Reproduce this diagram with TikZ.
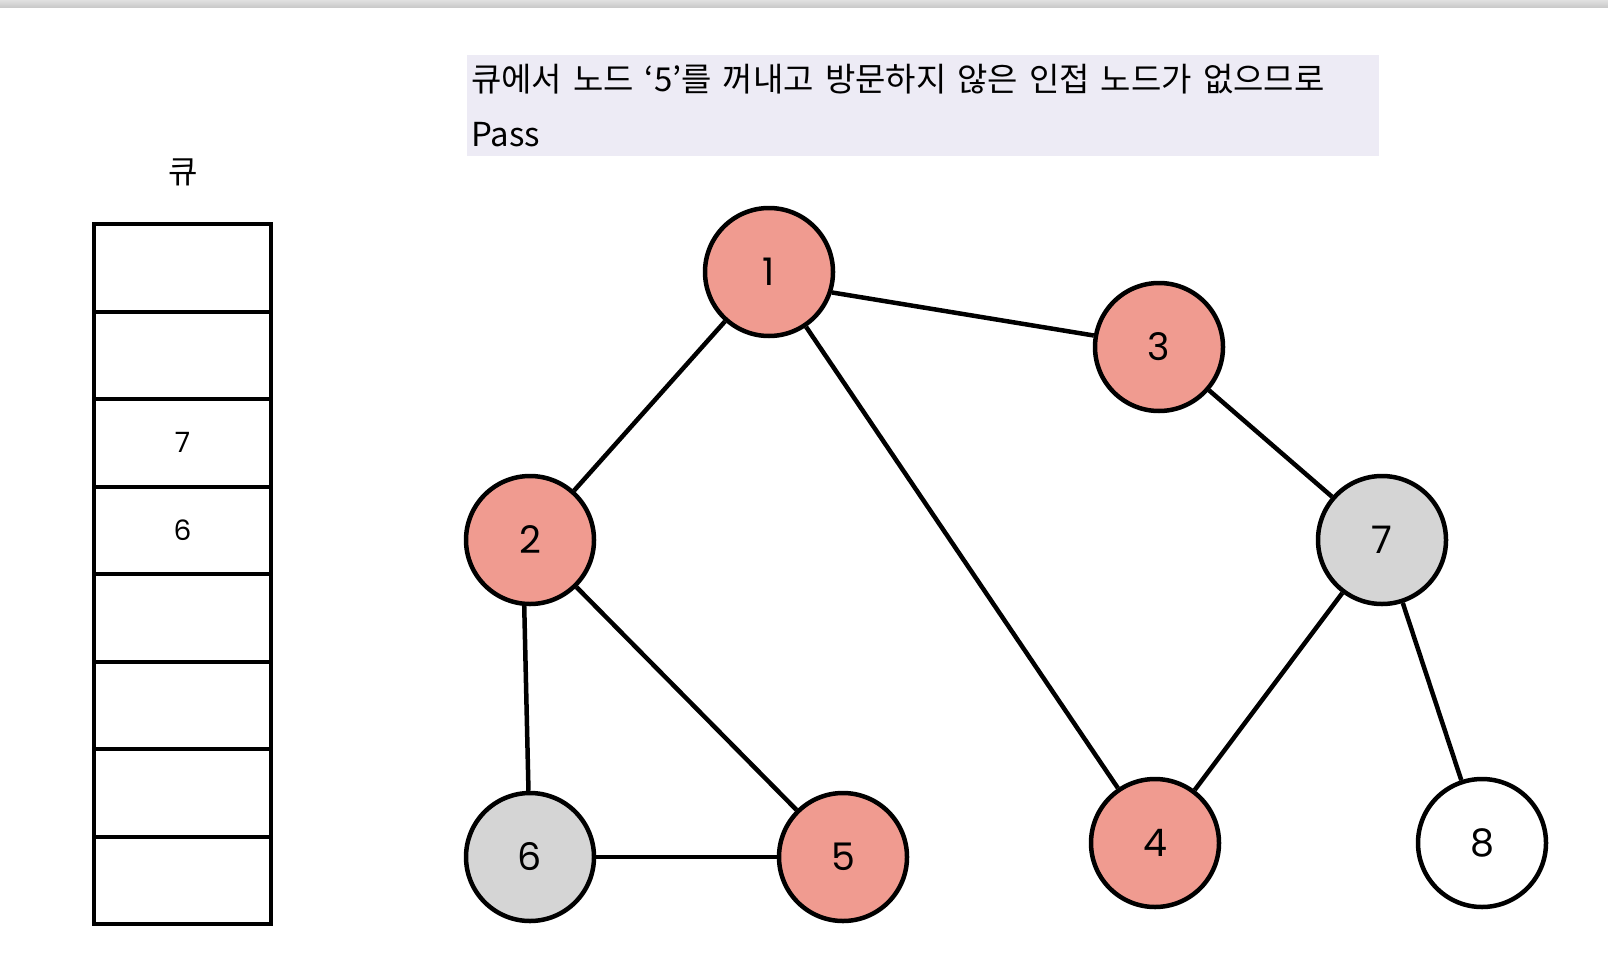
\documentclass[tikz,border=0pt]{standalone}
\usepackage{fontspec}
\setmainfont{Poppins}
\newfontfamily\kr{Noto Sans CJK KR}
\definecolor{visited}{HTML}{F09B90}
\definecolor{queued}{HTML}{D5D5D5}
\definecolor{notebg}{HTML}{EDEBF5}
\begin{document}
\begin{tikzpicture}[x=1pt, y=-1pt, every node/.style={font=\fontsize{38}{42}\selectfont},
  vnode/.style={draw,circle,line width=4.5pt,minimum size=128pt,inner sep=0pt},
  qcell/.style={draw,line width=4pt,minimum width=177pt,minimum height=87.5pt,inner sep=0pt,font=\fontsize{28}{32}\selectfont},
  edge/.style={line width=4.5pt}]
\useasboundingbox (0,0) rectangle (1608,966);
\shade[top color=black!12, bottom color=black!22] (0,0) rectangle (1608,8);
% note box
\node[fill=notebg,anchor=north west,minimum width=912pt,minimum height=101pt,text width=904pt,inner sep=4pt,align=left,
  font=\kr\fontsize{33}{55}\selectfont] (note) at (467,55) {큐에서 노드 ‘5’를 꺼내고 방문하지 않은 인접 노드가 없으므로\\Pass};
% queue
\node[font=\kr\fontsize{32}{36}\selectfont] (qlabel) at (183,172) {큐};
\foreach \i/\t in {1/,2/,3/7,4/6,5/,6/,7/,8/}
  \node[qcell] (q\i) at (182.5,224+87.5*\i-43.75) {\t};
% graph
\node[vnode,fill=visited] (n1) at (769,272) {1};
\node[vnode,fill=visited] (n3) at (1159,347) {3};
\node[vnode,fill=visited] (n2) at (530,540) {2};
\node[vnode,fill=queued] (n7) at (1382,540) {7};
\node[vnode,fill=queued] (n6) at (530,857) {6};
\node[vnode,fill=visited] (n5) at (843,857) {5};
\node[vnode,fill=visited] (n4) at (1155,843) {4};
\node[vnode,fill=white] (n8) at (1482,843) {8};
\draw[edge] (n1.-18) -- (n3.170); \draw[edge] (n1) -- (n2); \draw[edge] (n1) -- (n4);
\draw[edge] (n3) -- (n7); \draw[edge] (n2.-95) -- (n6); \draw[edge] (n2) -- (n5);
\draw[edge] (n6) -- (n5); \draw[edge] (n7) -- (n4); \draw[edge] (n7) -- (n8);
\end{tikzpicture}
\end{document}
